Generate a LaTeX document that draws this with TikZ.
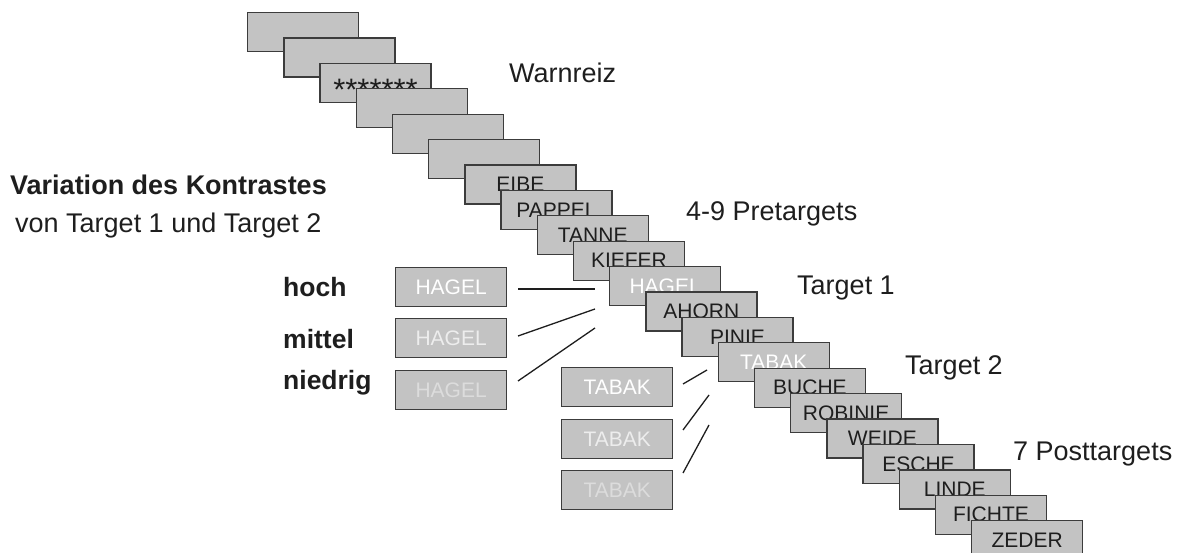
\documentclass[tikz,border=0pt]{standalone}
\usepackage{fontspec}
\setmainfont{Liberation Sans}
\definecolor{cardfill}{HTML}{C3C3C3}
\definecolor{cardline}{HTML}{3C3C3C}
\definecolor{ink}{HTML}{1E1E1E}
\definecolor{midw}{HTML}{EDEDED}
\definecolor{loww}{HTML}{DCDCDC}
\newcommand\astline{\smash{\raisebox{-17.5pt}{\fontsize{31}{31}\selectfont *******}}}
\newcommand\wht[1]{\textcolor{white}{#1}}
\begin{document}
\begin{tikzpicture}[x=1pt,y=-1pt,
  card/.style={draw=cardline, fill=cardfill, line width=1.3pt,
    minimum width=111pt, minimum height=39pt, inner sep=0pt,
    anchor=north west, font=\fontsize{21}{21}\selectfont, text=ink},
  lbl/.style={anchor=base west, inner sep=0pt,
    font=\fontsize{27}{27}\selectfont, text=ink},
  blbl/.style={lbl, font=\fontsize{26.5}{26.5}\selectfont\bfseries},
  conn/.style={line width=1.3pt, draw=ink}]
\useasboundingbox (0,0) rectangle (1184,553);
% sequence of cards
\foreach \w [count=\i from 0] in {{},{},{\astline},{},{},{},EIBE,PAPPEL,TANNE,KIEFER,{\wht{HAGEL}},AHORN,PINIE,{\wht{TABAK}},BUCHE,ROBINIE,WEIDE,ESCHE,LINDE,FICHTE,ZEDER}
  \node[card] (k\i) at (247+\i*36.2, 12+\i*25.4) {\w};
% contrast variants
\node[card, text=white] (h1) at (395,267) {HAGEL};
\node[card, text=midw]  (h2) at (395,318) {HAGEL};
\node[card, text=loww]  (h3) at (395,370) {HAGEL};
\node[card, text=white] (t1) at (561,367) {TABAK};
\node[card, text=midw]  (t2) at (561,419) {TABAK};
\node[card, text=loww]  (t3) at (561,470) {TABAK};
% connector lines
\coordinate (ha1) at (518,289); \coordinate (hb1) at (595,289);
\coordinate (ha2) at (518,336); \coordinate (hb2) at (595,309);
\coordinate (ha3) at (518,381); \coordinate (hb3) at (595,328);
\coordinate (ta1) at (683,384); \coordinate (tb1) at (707,370);
\coordinate (ta2) at (683,430); \coordinate (tb2) at (709,395);
\coordinate (ta3) at (683,473); \coordinate (tb3) at (709,425);
\draw[conn] (ha1) -- (hb1);
\draw[conn] (ha2) -- (hb2);
\draw[conn] (ha3) -- (hb3);
\draw[conn] (ta1) -- (tb1);
\draw[conn] (ta2) -- (tb2);
\draw[conn] (ta3) -- (tb3);
% labels
\node[lbl] (warn) at (509,83) {Warnreiz};
\node[lbl] (pre) at (686,221) {4-9 Pretargets};
\node[lbl] (tg1) at (797,295) {Target 1};
\node[lbl] (tg2) at (905,374) {Target 2};
\node[lbl] (post) at (1013,460) {7 Posttargets};
\node[lbl, font=\fontsize{27}{27}\selectfont\bfseries] (var) at (10,195) {Variation des Kontrastes};
\node[lbl] (von) at (15,233) {von Target 1 und Target 2};
\node[blbl] (hoch) at (283,297) {hoch};
\node[blbl] (mit) at (283,349) {mittel};
\node[blbl] (nied) at (283,390) {niedrig};
\end{tikzpicture}
\end{document}
